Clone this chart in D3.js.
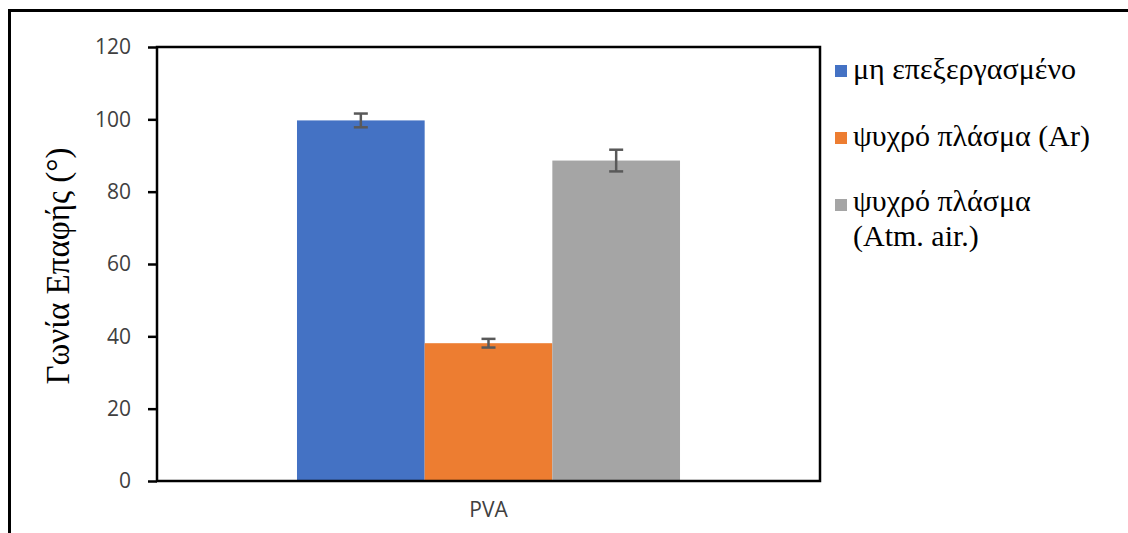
<!DOCTYPE html>
<html>
<head>
<meta charset="utf-8">
<script src="https://cdn.jsdelivr.net/npm/d3@7"></script>
<style>
  html, body { margin: 0; padding: 0; background: #fff; }
  svg { display: block; }
</style>
</head>
<body>
<svg id="chart" width="1128" height="533"></svg>
<script>
const categories = ["PVA"];
const seriesNames = ["μη επεξεργασμένο", "ψυχρό πλάσμα (Ar)", "ψυχρό πλάσμα (Atm. air.)"];
const legendLines = [["μη επεξεργασμένο"], ["ψυχρό πλάσμα (Ar)"], ["ψυχρό πλάσμα", "(Atm. air.)"]];
const seriesColors = ["#4472C4", "#ED7D31", "#A5A5A5"];
const values = [99.7, 38.1, 88.6];
const errors = [1.9, 1.2, 3.0];
const yTicks = [0, 20, 40, 60, 80, 100, 120];
const yTitle = "Γωνία Επαφής (°)";

const svg = d3.select("#chart");
const W = 1128, H = 533;
const m = { left: 157, top: 47, right: 820, bottom: 481 };

// outer frame (left and top edges)
svg.append("line").attr("x1", 9.5).attr("x2", 9.5).attr("y1", 9).attr("y2", H)
  .attr("stroke", "#000").attr("stroke-width", 3);
svg.append("line").attr("x1", 8).attr("x2", W).attr("y1", 10.5).attr("y2", 10.5)
  .attr("stroke", "#000").attr("stroke-width", 3);

const y = d3.scaleLinear().domain([0, 120]).range([m.bottom, m.top]);
const x0 = d3.scaleBand().domain(categories).range([m.left, m.right])
  .paddingInner(0).paddingOuter(0.3655);
const x1 = d3.scaleBand().domain(d3.range(seriesNames.length)).range([0, x0.bandwidth()]).padding(0);

// bars
const g = svg.append("g");
categories.forEach(cat => {
  values.forEach((v, i) => {
    g.append("rect")
      .attr("x", x0(cat) + x1(i))
      .attr("y", y(v))
      .attr("width", x1.bandwidth())
      .attr("height", y(0) - y(v))
      .attr("fill", seriesColors[i]);
  });
  // error bars
  values.forEach((v, i) => {
    const cx = x0(cat) + x1(i) + x1.bandwidth() / 2;
    const eg = g.append("g").attr("stroke", "#595959").attr("stroke-width", 2.5);
    eg.append("line").attr("x1", cx).attr("x2", cx).attr("y1", y(v + errors[i])).attr("y2", y(v - errors[i]));
    eg.append("line").attr("x1", cx - 7).attr("x2", cx + 7).attr("y1", y(v + errors[i])).attr("y2", y(v + errors[i]));
    eg.append("line").attr("x1", cx - 7).attr("x2", cx + 7).attr("y1", y(v - errors[i])).attr("y2", y(v - errors[i]));
  });
});

// plot border
svg.append("rect").attr("x", m.left).attr("y", m.top)
  .attr("width", m.right - m.left).attr("height", m.bottom - m.top)
  .attr("fill", "none").attr("stroke", "#000").attr("stroke-width", 2.5);

// y axis
const yAxis = svg.append("g").attr("transform", `translate(${m.left},0)`)
  .call(d3.axisLeft(y).tickValues(yTicks).tickSize(9).tickPadding(17).tickFormat(d3.format("d")));
yAxis.select(".domain").remove();
yAxis.selectAll(".tick line").attr("stroke", "#000").attr("stroke-width", 2.5);
yAxis.selectAll(".tick text").attr("fill", "#404040")
  .style("font-family", "'Open Sans', sans-serif").style("font-size", "21px");

// x axis label
const xAxis = svg.append("g").attr("transform", `translate(0,${m.bottom})`)
  .call(d3.axisBottom(x0).tickSize(0).tickPadding(21));
xAxis.select(".domain").remove();
xAxis.selectAll(".tick text").attr("fill", "#404040")
  .style("font-family", "'Open Sans', sans-serif").style("font-size", "21px");

// y title
svg.append("text")
  .attr("transform", `translate(69,${(m.top + m.bottom) / 2 + 2}) rotate(-90)`)
  .attr("text-anchor", "middle")
  .style("font-family", "'Liberation Serif', 'Times New Roman', serif")
  .style("font-size", "33px").attr("fill", "#000")
  .text(yTitle);

// legend
const lg = svg.append("g");
const rowY = [71, 138, 205];
const rowBase = [79, 146, 211];
legendLines.forEach((lines, i) => {
  lg.append("rect").attr("x", 835).attr("y", rowY[i] - 6).attr("width", 12).attr("height", 12)
    .attr("fill", seriesColors[i]);
  lines.forEach((s, j) => {
    lg.append("text").attr("x", 853).attr("y", rowBase[i] + j * 35)
      .style("font-family", "'Liberation Serif', 'Times New Roman', serif")
      .style("font-size", "30px").attr("fill", "#000")
      .text(s);
  });
});
</script>
</body>
</html>
